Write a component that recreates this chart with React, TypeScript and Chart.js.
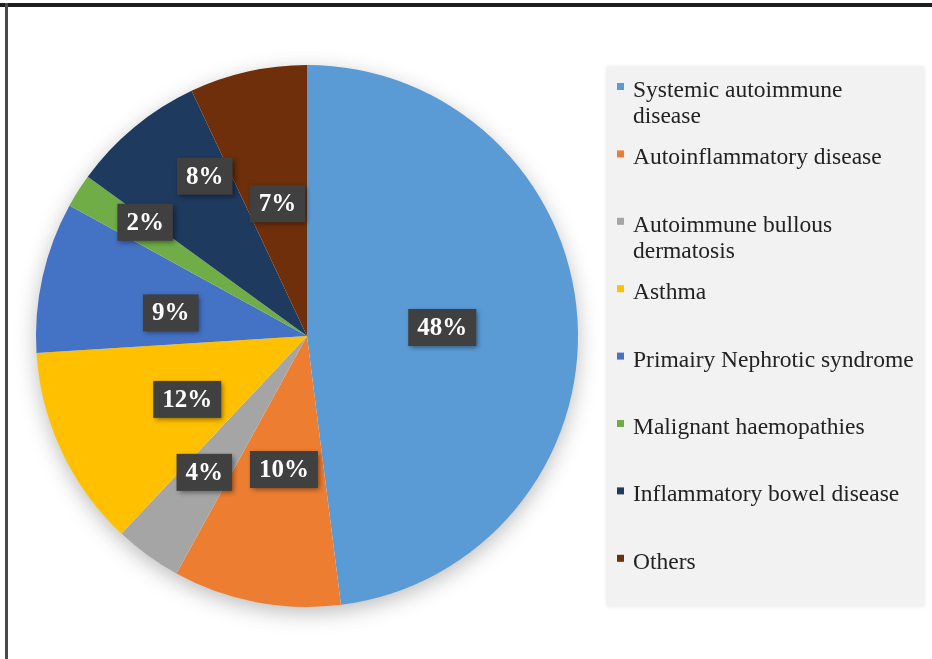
import React, { useEffect, useRef } from 'react';
import { Chart, registerables } from 'chart.js';

Chart.register(...registerables);

// ---- data ----
const categories: string[][] = [
  ['Systemic autoimmune', 'disease'],
  ['Autoinflammatory disease'],
  ['Autoimmune bullous', 'dermatosis'],
  ['Asthma'],
  ['Primairy Nephrotic syndrome'],
  ['Malignant haemopathies'],
  ['Inflammatory bowel disease'],
  ['Others'],
];
const percentages = [48, 10, 4, 12, 9, 2, 8, 7];
const sliceColors = ['#5B9BD5', '#ED7D31', '#A5A5A5', '#FFC000', '#4472C4', '#70AD47', '#1F3A5F', '#6E2F0A'];
// label placement style: radial fraction and small angle tweak (degrees)
const labelRadius = [0.5, 0.5, 0.63, 0.5, 0.51, 0.73, 0.7, 0.5];
const labelAngleTweak = [0, -1, 1, -2.7, -3, 2.7, 7, 0];

const SERIF = '"Liberation Serif", "Times New Roman", serif';

const framePlugin = {
  id: 'frame',
  beforeDraw(chart: any) {
    const { ctx, width, height } = chart;
    ctx.save();
    ctx.fillStyle = '#ffffff';
    ctx.fillRect(0, 0, width, height);
    ctx.fillStyle = '#1e1e1e';
    ctx.fillRect(0, 3, width, 4);
    ctx.fillStyle = '#4a4a4a';
    ctx.fillRect(5, 3, 3, height - 3);
    ctx.restore();
  },
};

const pieShadowPlugin = {
  id: 'pieShadow',
  beforeDatasetsDraw(chart: any) {
    const arc = chart.getDatasetMeta(0).data[0];
    if (!arc) return;
    const { ctx } = chart;
    ctx.save();
    ctx.shadowColor = 'rgba(0,0,0,0.28)';
    ctx.shadowBlur = 22;
    ctx.shadowOffsetY = 6;
    ctx.fillStyle = '#ffffff';
    ctx.beginPath();
    ctx.arc(arc.x, arc.y, arc.outerRadius - 1, 0, Math.PI * 2);
    ctx.fill();
    ctx.restore();
  },
};

const valueLabelPlugin = {
  id: 'valueLabels',
  afterDatasetsDraw(chart: any) {
    const { ctx } = chart;
    const meta = chart.getDatasetMeta(0);
    ctx.save();
    ctx.font = `bold 25px ${SERIF}`;
    meta.data.forEach((arc: any, i: number) => {
      const mid = (arc.startAngle + arc.endAngle) / 2 + (labelAngleTweak[i] * Math.PI) / 180;
      const r = arc.outerRadius * labelRadius[i];
      const cx = arc.x + Math.cos(mid) * r;
      const cy = arc.y + Math.sin(mid) * r;
      const text = `${percentages[i]}%`;
      const tw = ctx.measureText(text).width;
      const w = tw + 18;
      const h = 37;
      ctx.save();
      ctx.shadowColor = 'rgba(0,0,0,0.45)';
      ctx.shadowBlur = 5;
      ctx.shadowOffsetX = 2;
      ctx.shadowOffsetY = 2;
      ctx.fillStyle = '#404040';
      ctx.fillRect(cx - w / 2, cy - h / 2, w, h);
      ctx.restore();
      ctx.fillStyle = '#ffffff';
      ctx.textAlign = 'center';
      ctx.textBaseline = 'middle';
      ctx.fillText(text, cx, cy + 1);
    });
    ctx.restore();
  },
};

const legendPlugin = {
  id: 'customLegend',
  afterDraw(chart: any) {
    const { ctx } = chart;
    const bx = 607, by = 67, bw = 317, bh = 539;
    ctx.save();
    ctx.shadowColor = 'rgba(0,0,0,0.12)';
    ctx.shadowBlur = 4;
    ctx.fillStyle = '#f2f2f2';
    ctx.fillRect(bx, by, bw, bh);
    ctx.restore();
    ctx.save();
    ctx.font = `23.5px ${SERIF}`;
    ctx.textBaseline = 'alphabetic';
    ctx.textAlign = 'left';
    const firstBaseline = 97;
    const step = 67.4;
    const lineH = 26;
    categories.forEach((lines, i) => {
      const base = firstBaseline + i * step;
      ctx.fillStyle = sliceColors[i];
      ctx.fillRect(617, base - 14, 7, 7);
      ctx.fillStyle = '#222222';
      lines.forEach((ln, j) => {
        ctx.fillText(ln, 633, base + j * lineH);
      });
    });
    ctx.restore();
  },
};

export default function App() {
  const ref = useRef<HTMLCanvasElement | null>(null);
  useEffect(() => {
    document.body.style.margin = '0';
    const canvas = ref.current!;
    const chart = new Chart(canvas, {
      type: 'pie',
      data: {
        labels: categories.map((l) => l.join(' ')),
        datasets: [
          {
            data: percentages,
            backgroundColor: sliceColors,
            borderWidth: 0,
          },
        ],
      },
      options: {
        responsive: false,
        animation: false,
        layout: { padding: { left: 36, top: 65, right: 354, bottom: 52 } },
        plugins: {
          legend: { display: false },
          tooltip: { enabled: false },
          title: { display: false },
        },
      },
      plugins: [framePlugin, pieShadowPlugin, valueLabelPlugin, legendPlugin],
    });
    return () => chart.destroy();
  }, []);
  return (
    <div style={{ width: 932, height: 659 }}>
      <canvas ref={ref} width={932} height={659} style={{ display: 'block' }} />
    </div>
  );
}
